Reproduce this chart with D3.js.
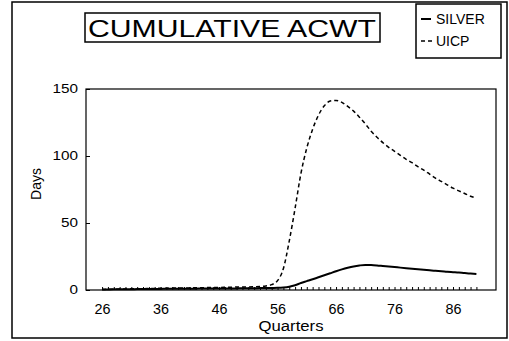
<!DOCTYPE html>
<html><head><meta charset="utf-8">
<script src="https://cdn.jsdelivr.net/npm/d3@7"></script>
<style>
html,body{margin:0;padding:0;background:#fff;}
svg{display:block;font-family:"Liberation Sans",Arial,sans-serif;}
</style></head>
<body><svg id="c" width="509" height="341"></svg>
<script>
const quarters = [26,27,28,29,30,31,32,33,34,35,36,37,38,39,40,41,42,43,44,45,46,47,48,49,50,51,52,53,54,55,56,57,58,59,60,61,62,63,64,65,66,67,68,69,70,71,72,73,74,75,76,77,78,79,80,81,82,83,84,85,86,87,88,89,90];
const silver = [0.3,0.4,0.5,0.5,0.6,0.6,0.7,0.7,0.8,0.8,
  0.8,0.9,0.9,0.9,1.0,1.0,1.0,1.1,1.1,1.1,
  1.2,1.2,1.2,1.2,1.3,1.3,1.3,1.4,1.4,1.5,
  1.6,1.9,2.5,3.6,5.2,6.6,8.0,9.5,11.0,12.5,
  14.0,15.4,16.6,17.6,18.3,18.7,18.6,18.3,17.9,17.5,
  17.1,16.7,16.3,15.9,15.5,15.1,14.7,14.3,14.0,13.6,
  13.3,13.0,12.6,12.3,12.0];
const uicp = [0.4,0.5,0.6,0.7,0.8,0.9,1.0,1.0,1.1,1.2,
  1.3,1.3,1.4,1.5,1.5,1.6,1.7,1.7,1.8,1.9,
  1.9,2.0,2.1,2.2,2.2,2.3,2.4,2.6,3.0,4.0,
  7.0,16.0,36.5,61.0,87.0,106.0,120.0,130.5,137.5,141.0,
  141.5,140.0,137.0,133.5,129.0,124.0,118.5,114.0,110.0,106.5,
  103.5,100.5,97.5,95.0,92.0,89.5,86.5,83.5,81.0,78.5,
  76.0,74.0,72.0,70.0,68.5];
const xTickLabels = [26,36,46,56,66,76,86];
const yTickLabels = [0,50,100,150];
const title = "CUMULATIVE ACWT";
const seriesNames = ["SILVER","UICP"];
const xTitle = "Quarters", yTitle = "Days";

const svg = d3.select("#c");
const L=86, R=496, T=89, B=290;
const x = d3.scaleLinear().domain([23.25,93.35]).range([L,R]);
const y = d3.scaleLinear().domain([0,150]).range([B,T]);

// outer frame
svg.append("rect").attr("x",12).attr("y",2).attr("width",495).attr("height",336)
  .attr("fill","none").attr("stroke","#000").attr("stroke-width",1.5);

// plot frame
svg.append("rect").attr("x",L).attr("y",T).attr("width",R-L).attr("height",B-T)
  .attr("fill","none").attr("stroke","#000").attr("stroke-width",1.2);

// minor x ticks (inside)
const xAxis = d3.axisBottom(x).tickValues(quarters).tickSize(-3).tickFormat("");
const gx = svg.append("g").attr("transform",`translate(0,${B})`).call(xAxis);
gx.select(".domain").remove();
gx.selectAll("line").attr("stroke","#000").attr("stroke-width",1);

// x tick labels
const gxl = svg.append("g").attr("transform",`translate(0,${B})`)
  .call(d3.axisBottom(x).tickValues(xTickLabels).tickSize(0).tickPadding(14));
gxl.select(".domain").remove();
gxl.selectAll("text").attr("font-size",14).attr("font-family","Liberation Sans, Arial").attr("fill","#000")
  .attr("textLength",16).attr("lengthAdjust","spacingAndGlyphs");

// y axis ticks inside + labels
const gy = svg.append("g").attr("transform",`translate(${L},0)`)
  .call(d3.axisLeft(y).tickValues(yTickLabels).tickSize(-4).tickPadding(8));
gy.select(".domain").remove();
gy.selectAll("line").attr("stroke","#000").attr("stroke-width",1);
gy.selectAll("text").attr("font-size",12).attr("font-family","Liberation Sans, Arial").attr("fill","#000")
  .each(function(d){ const s=String(d); d3.select(this).attr("textLength", s.length*8.5).attr("lengthAdjust","spacingAndGlyphs"); });

// lines
const line = d3.line().x((d,i)=>x(quarters[i])).y(d=>y(d)).curve(d3.curveMonotoneX);
svg.append("path").datum(uicp).attr("d",line).attr("fill","none").attr("stroke","#000")
  .attr("stroke-width",1.5).attr("stroke-dasharray","4,3");
svg.append("path").datum(silver).attr("d",line).attr("fill","none").attr("stroke","#000")
  .attr("stroke-width",2);

// axis titles
svg.append("text").attr("x",291).attr("y",331).attr("text-anchor","middle")
  .attr("font-size",14).attr("textLength",65).attr("lengthAdjust","spacingAndGlyphs").text(xTitle);
svg.append("text").attr("transform","translate(41,184) rotate(-90)").attr("text-anchor","middle")
  .attr("font-size",14).text(yTitle);

// title box
svg.append("rect").attr("x",85).attr("y",13).attr("width",295).attr("height",29)
  .attr("fill","#fff").attr("stroke","#000").attr("stroke-width",1.5);
svg.append("text").attr("x",88).attr("y",37).attr("font-size",24)
  .attr("textLength",288).attr("lengthAdjust","spacingAndGlyphs").text(title);

// legend
const lg = svg.append("g");
lg.append("rect").attr("x",416).attr("y",4).attr("width",85).attr("height",54)
  .attr("fill","#fff").attr("stroke","#000").attr("stroke-width",1.5);
const ly = [19,41];
lg.append("line").attr("x1",421).attr("x2",431).attr("y1",ly[0]).attr("y2",ly[0])
  .attr("stroke","#000").attr("stroke-width",2);
lg.append("line").attr("x1",421).attr("x2",433).attr("y1",ly[1]).attr("y2",ly[1])
  .attr("stroke","#000").attr("stroke-width",1.5).attr("stroke-dasharray","4,3");
lg.selectAll("text.lt").data(seriesNames).enter().append("text").attr("class","lt")
  .attr("x",436).attr("y",(d,i)=>ly[i]).attr("dy","0.36em").attr("font-size",14).text(d=>d);
</script></body></html>
